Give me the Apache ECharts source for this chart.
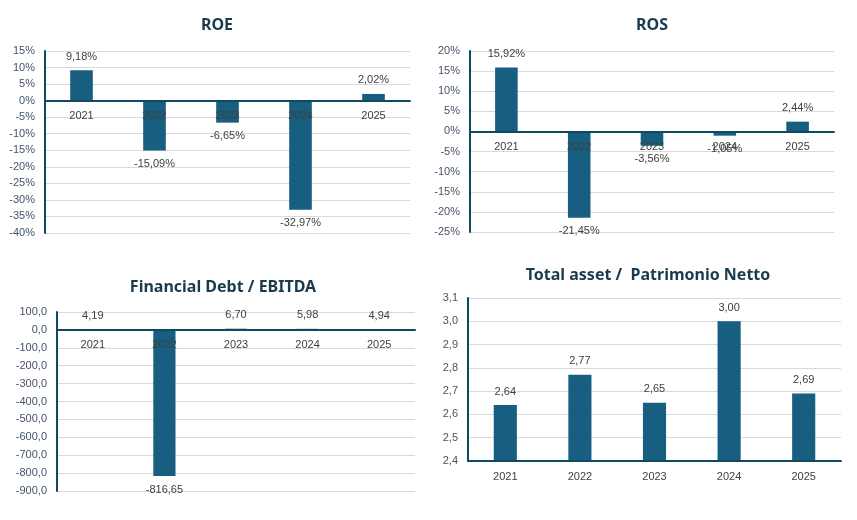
<!DOCTYPE html>
<html><head><meta charset="utf-8">
<script src="https://cdn.jsdelivr.net/npm/echarts@6/dist/echarts.min.js"></script>
<style>html,body{margin:0;padding:0;background:#fff}#c{width:857px;height:520px}</style>
</head><body><div id="c"></div>
<script>
const years = ['2021','2022','2023','2024','2025'];
const roe = [9.18, -15.09, -6.65, -32.97, 2.02];
const ros = [15.92, -21.45, -3.56, -1.05, 2.44];
const debtEbitda = [4.19, -816.65, 6.70, 5.98, 4.94];
const assetEquity = [2.64, 2.77, 2.65, 3.00, 2.69];

const BAR = '#175E80', AXIS = '#0F4A63', GRID = '#D9D9D9';
const TXT = '#404040', YTXT = '#44546A', TITLE = '#1B3A4E';
const FONT = 'Liberation Sans';
const comma = (v, d) => v.toFixed(d).replace('.', ',');

const grids = [
  {left:45, top:51, width:365, height:182},
  {left:470, top:51, width:364, height:181},
  {left:57, top:312, width:358, height:179},
  {left:468, top:298, width:373, height:163}
];
const titles = [
  {text:'ROE', left:212, top:12},
  {text:'ROS', left:647, top:12},
  {text:'Financial Debt / EBITDA', left:218, top:274},
  {text:'Total asset /  Patrimonio Netto', left:643, top:262}
];
const yCfg = [
  {min:-40, max:15, interval:5, fmt:v => v + '%'},
  {min:-25, max:20, interval:5, fmt:v => v + '%'},
  {min:-900, max:100, interval:100, fmt:v => comma(v,1)},
  {min:2.4, max:3.1, interval:0.1, fmt:v => comma(v,1)}
];
const datas = [roe, ros, debtEbitda, assetEquity];
const lblFmt = [v => comma(v,2)+'%', v => comma(v,2)+'%', v => comma(v,2), v => comma(v,2)];

// place the category axis (line + labels) on the zero value
const zeroOffset = (g, y) => {
  if (y.min >= 0) return 0;
  return -g.height * (0 - y.min) / (y.max - y.min);
};

const option = {
  animation:false,
  backgroundColor:'#fff',
  title: titles.map(t => ({text:t.text, left:t.left, top:t.top, textAlign:'center',
    textStyle:{fontFamily:'Noto Sans', fontWeight:'bold', fontSize:16, color:TITLE}})),
  grid: grids,
  xAxis: grids.map((g,i) => ({type:'category', gridIndex:i, data:years, position:'bottom',
    offset: zeroOffset(g, yCfg[i]),
    axisLine:{onZero:false, lineStyle:{color:AXIS, width:2}},
    axisTick:{show:false},
    axisLabel:{color:TXT, fontFamily:FONT, fontSize:11, margin:10},
    splitLine:{show:false}, z:5})),
  yAxis: grids.map((g,i) => ({type:'value', gridIndex:i, min:yCfg[i].min, max:yCfg[i].max, interval:yCfg[i].interval,
    axisLine:{show:true, lineStyle:{color:AXIS, width:2}},
    axisTick:{show:false},
    axisLabel:{color:YTXT, fontFamily:FONT, fontSize:11, margin:10, formatter:yCfg[i].fmt},
    splitLine:{show:true, lineStyle:{color:GRID, width:1}}})),
  series: datas.map((d,i) => ({type:'bar', xAxisIndex:i, yAxisIndex:i, barWidth:'31%',
    itemStyle:{color:BAR}, z:2,
    data: d.map(v => ({value:v, label:{position: v < 0 ? 'bottom' : 'top'}})),
    label:{show:true, color:TXT, fontFamily:FONT, fontSize:11, distance:8,
      formatter:p => lblFmt[i](p.value)}}))
};
const ch = echarts.init(document.getElementById('c'), null, {renderer:'canvas'});
ch.setOption(option);
</script></body></html>
